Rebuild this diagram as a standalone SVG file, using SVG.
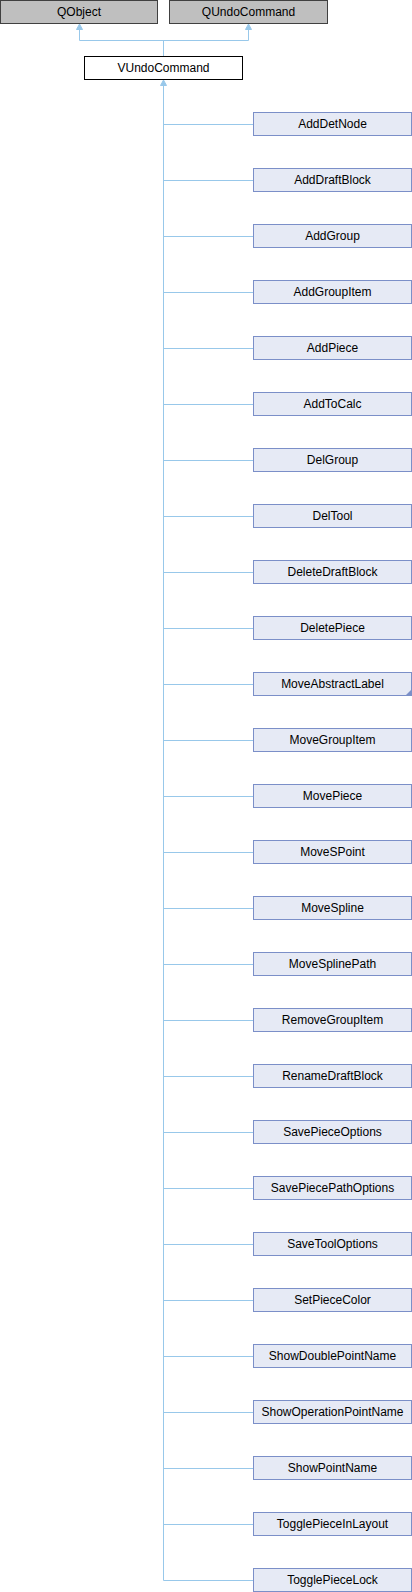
<svg xmlns="http://www.w3.org/2000/svg" width="412" height="1592" viewBox="0 0 412 1592">
<style>
.g rect{fill:#bfbfbf;stroke:#404040;stroke-width:1}
.w rect{fill:#ffffff;stroke:#000000;stroke-width:1}
.n rect{fill:#e6eaf5;stroke:#7b8fc8;stroke-width:1}
text{font-family:"Liberation Sans",Arial,sans-serif;font-size:12px;fill:#000;text-anchor:middle}
.e{fill:none;stroke:#98c8ea;stroke-width:1}
.a{fill:#98c8ea;stroke:#98c8ea;stroke-width:1}
</style>
<g id="edges">
<path class="e" d="M163.5,56.5 V40.5 M79.5,40.5 H248.5 M79.5,40.5 V29 M248.5,40.5 V29"/>
<polygon class="a" points="79.5,24 76.5,29.5 82.5,29.5"/>
<polygon class="a" points="248.5,24 245.5,29.5 251.5,29.5"/>
<path class="e" d="M163.5,85 V1580.5"/>
<polygon class="a" points="163.5,80 160.5,85.5 166.5,85.5"/>
<path class="e" d="M163.5,124.5H253.5M163.5,180.5H253.5M163.5,236.5H253.5M163.5,292.5H253.5M163.5,348.5H253.5M163.5,404.5H253.5M163.5,460.5H253.5M163.5,516.5H253.5M163.5,572.5H253.5M163.5,628.5H253.5M163.5,684.5H253.5M163.5,740.5H253.5M163.5,796.5H253.5M163.5,852.5H253.5M163.5,908.5H253.5M163.5,964.5H253.5M163.5,1020.5H253.5M163.5,1076.5H253.5M163.5,1132.5H253.5M163.5,1188.5H253.5M163.5,1244.5H253.5M163.5,1300.5H253.5M163.5,1356.5H253.5M163.5,1412.5H253.5M163.5,1468.5H253.5M163.5,1524.5H253.5M163.5,1580.5H253.5"/>
</g>
<g id="QObject" class="g"><rect x="0.5" y="0.5" width="157" height="23"/><text x="79" y="16">QObject</text></g>
<g id="QUndoCommand" class="g"><rect x="169.5" y="0.5" width="158" height="23"/><text x="248.5" y="16">QUndoCommand</text></g>
<g id="VUndoCommand" class="w"><rect x="84.5" y="56.5" width="158" height="23"/><text x="163.5" y="72">VUndoCommand</text></g>
<g id="AddDetNode" class="n"><rect x="253.5" y="112.5" width="158" height="23"/><text x="332.5" y="128">AddDetNode</text></g>
<g id="AddDraftBlock" class="n"><rect x="253.5" y="168.5" width="158" height="23"/><text x="332.5" y="184">AddDraftBlock</text></g>
<g id="AddGroup" class="n"><rect x="253.5" y="224.5" width="158" height="23"/><text x="332.5" y="240">AddGroup</text></g>
<g id="AddGroupItem" class="n"><rect x="253.5" y="280.5" width="158" height="23"/><text x="332.5" y="296">AddGroupItem</text></g>
<g id="AddPiece" class="n"><rect x="253.5" y="336.5" width="158" height="23"/><text x="332.5" y="352">AddPiece</text></g>
<g id="AddToCalc" class="n"><rect x="253.5" y="392.5" width="158" height="23"/><text x="332.5" y="408">AddToCalc</text></g>
<g id="DelGroup" class="n"><rect x="253.5" y="448.5" width="158" height="23"/><text x="332.5" y="464">DelGroup</text></g>
<g id="DelTool" class="n"><rect x="253.5" y="504.5" width="158" height="23"/><text x="332.5" y="520">DelTool</text></g>
<g id="DeleteDraftBlock" class="n"><rect x="253.5" y="560.5" width="158" height="23"/><text x="332.5" y="576">DeleteDraftBlock</text></g>
<g id="DeletePiece" class="n"><rect x="253.5" y="616.5" width="158" height="23"/><text x="332.5" y="632">DeletePiece</text></g>
<g id="MoveAbstractLabel" class="n"><rect x="253.5" y="672.5" width="158" height="23"/><polygon points="411.5,689.5 411.5,695.5 405.5,695.5" fill="#7b8fc8"/><text x="332.5" y="688">MoveAbstractLabel</text></g>
<g id="MoveGroupItem" class="n"><rect x="253.5" y="728.5" width="158" height="23"/><text x="332.5" y="744">MoveGroupItem</text></g>
<g id="MovePiece" class="n"><rect x="253.5" y="784.5" width="158" height="23"/><text x="332.5" y="800">MovePiece</text></g>
<g id="MoveSPoint" class="n"><rect x="253.5" y="840.5" width="158" height="23"/><text x="332.5" y="856">MoveSPoint</text></g>
<g id="MoveSpline" class="n"><rect x="253.5" y="896.5" width="158" height="23"/><text x="332.5" y="912">MoveSpline</text></g>
<g id="MoveSplinePath" class="n"><rect x="253.5" y="952.5" width="158" height="23"/><text x="332.5" y="968">MoveSplinePath</text></g>
<g id="RemoveGroupItem" class="n"><rect x="253.5" y="1008.5" width="158" height="23"/><text x="332.5" y="1024">RemoveGroupItem</text></g>
<g id="RenameDraftBlock" class="n"><rect x="253.5" y="1064.5" width="158" height="23"/><text x="332.5" y="1080">RenameDraftBlock</text></g>
<g id="SavePieceOptions" class="n"><rect x="253.5" y="1120.5" width="158" height="23"/><text x="332.5" y="1136">SavePieceOptions</text></g>
<g id="SavePiecePathOptions" class="n"><rect x="253.5" y="1176.5" width="158" height="23"/><text x="332.5" y="1192">SavePiecePathOptions</text></g>
<g id="SaveToolOptions" class="n"><rect x="253.5" y="1232.5" width="158" height="23"/><text x="332.5" y="1248">SaveToolOptions</text></g>
<g id="SetPieceColor" class="n"><rect x="253.5" y="1288.5" width="158" height="23"/><text x="332.5" y="1304">SetPieceColor</text></g>
<g id="ShowDoublePointName" class="n"><rect x="253.5" y="1344.5" width="158" height="23"/><text x="332.5" y="1360">ShowDoublePointName</text></g>
<g id="ShowOperationPointName" class="n"><rect x="253.5" y="1400.5" width="158" height="23"/><text x="332.5" y="1416">ShowOperationPointName</text></g>
<g id="ShowPointName" class="n"><rect x="253.5" y="1456.5" width="158" height="23"/><text x="332.5" y="1472">ShowPointName</text></g>
<g id="TogglePieceInLayout" class="n"><rect x="253.5" y="1512.5" width="158" height="23"/><text x="332.5" y="1528">TogglePieceInLayout</text></g>
<g id="TogglePieceLock" class="n"><rect x="253.5" y="1568.5" width="158" height="23"/><text x="332.5" y="1584">TogglePieceLock</text></g>
</svg>
